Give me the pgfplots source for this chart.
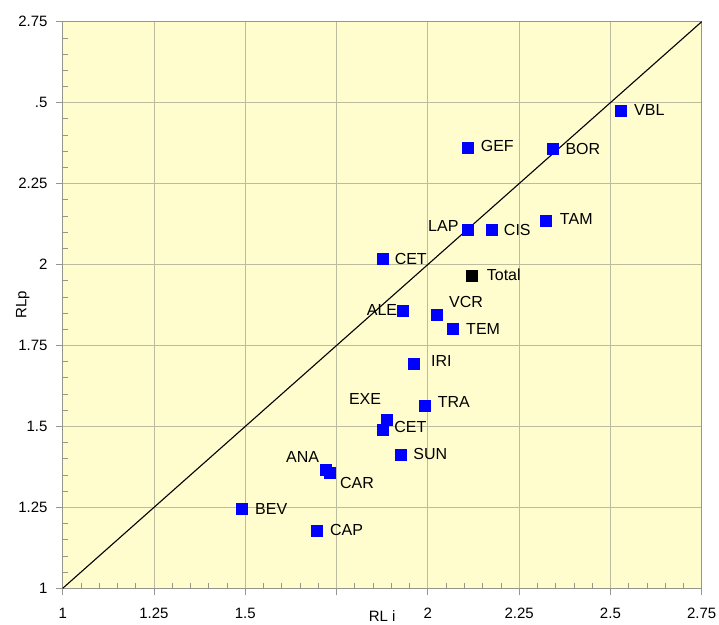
\documentclass[border=0pt]{standalone}
\usepackage{fontspec}
\setmainfont{Liberation Sans}
\usepackage{pgfplots}
\usepackage{pgfplotstable}
\pgfplotsset{compat=1.18}
\definecolor{bgy}{RGB}{255,253,205}
\definecolor{gridc}{RGB}{188,188,160}
\definecolor{framec}{RGB}{150,150,140}
\pgfplotstableread{
x y
2.529 2.474
2.109 2.362
2.341 2.358
2.109 2.107
2.175 2.107
2.323 2.135
1.876 2.018
1.930 1.857
2.025 1.844
2.069 1.801
1.962 1.695
1.991 1.565
1.886 1.520
1.875 1.491
1.927 1.412
1.719 1.367
1.732 1.358
1.491 1.246
1.696 1.179
}\pts
\pgfplotstableread{
x y
2.120 1.965
}\total
\tikzset{lbl/.style={inner sep=0pt, text=black, font=\fontsize{16}{18}\selectfont}}
\begin{document}
\begin{tikzpicture}
\useasboundingbox (-62.7pt,-35.7pt) rectangle (656.3pt,588.3pt);
\begin{axis}[
  at={(0,0)}, anchor=south west,
  scale only axis, width=639pt, height=566.6pt,
  xmin=1, xmax=2.75, ymin=1, ymax=2.75,
  xtick={1,1.25,1.5,1.75,2,2.25,2.5,2.75},
  ytick={1,1.25,1.5,1.75,2,2.25,2.5,2.75},
  xticklabels={1,1.25,1.5,,2,2.25,2.5,2.75},
  yticklabels={1,1.25,1.5,1.75,2,2.25,.5,2.75},
  minor tick num=4,
  xtick pos=left, ytick pos=left,
  grid=major,
  major grid style={gridc, line width=0.8pt},
  axis background/.style={fill=bgy},
  axis line style={framec, line width=1pt},
  tick style={framec, line width=0.7pt},
  tick align=outside,
  major tick length=7pt, minor tick length=5pt,
  minor x tick style={yshift=5pt},
  minor y tick style={xshift=5pt},
  xticklabel style={inner sep=0pt, anchor=north, yshift=-13pt, font=\fontsize{15}{17}\selectfont},
  yticklabel style={inner sep=0pt, anchor=east, xshift=-8pt, font=\fontsize{15}{17}\selectfont},
  /pgf/number format/assume math mode=true,
  clip=false,
]
\addplot[black, line width=1.1pt, no marks] coordinates {(1,1) (2.75,2.75)};
\addplot[only marks, mark=square*, mark size=5.5pt, color=blue, mark options={fill=blue, draw=blue}]
  table[x=x, y=y] {\pts};
\addplot[only marks, mark=square*, mark size=5.5pt, color=black] table[x=x, y=y] {\total};
% labels
\node[lbl, anchor=west] at ([xshift=13pt, yshift=1pt]axis cs:2.529,2.474) {VBL};
\node[lbl, anchor=west] at ([xshift=13pt, yshift=1pt]axis cs:2.109,2.362) {GEF};
\node[lbl, anchor=west] at ([xshift=13pt]axis cs:2.341,2.358) {BOR};
\node[lbl, anchor=east] at ([xshift=-9pt, yshift=4pt]axis cs:2.109,2.107) {LAP};
\node[lbl, anchor=west] at ([xshift=12pt]axis cs:2.175,2.107) {CIS};
\node[lbl, anchor=west] at ([xshift=14pt, yshift=2pt]axis cs:2.323,2.135) {TAM};
\node[lbl, anchor=west] at ([xshift=12pt]axis cs:1.876,2.018) {CET};
\node[lbl, anchor=west] at ([xshift=15pt, yshift=1pt]axis cs:2.120,1.965) {Total};
\node[lbl, anchor=east] at ([xshift=-5pt, yshift=1pt]axis cs:1.930,1.857) {ALE};
\node[lbl, anchor=south west] at ([xshift=12pt, yshift=7pt]axis cs:2.025,1.844) {VCR};
\node[lbl, anchor=west] at ([xshift=13pt]axis cs:2.069,1.801) {TEM};
\node[lbl, anchor=west] at ([xshift=17pt, yshift=2pt]axis cs:1.962,1.695) {IRI};
\node[lbl, anchor=west] at ([xshift=13pt, yshift=3pt]axis cs:1.991,1.565) {TRA};
\node[lbl, anchor=south east] at ([xshift=-5pt, yshift=15pt]axis cs:1.886,1.520) {EXE};
\node[lbl, anchor=west] at ([xshift=12pt, yshift=2pt]axis cs:1.875,1.491) {CET};
\node[lbl, anchor=west] at ([xshift=12pt, yshift=1pt]axis cs:1.927,1.412) {SUN};
\node[lbl, anchor=south east] at ([xshift=-6pt, yshift=7pt]axis cs:1.719,1.367) {ANA};
\node[lbl, anchor=north west] at ([xshift=10pt, yshift=-5pt]axis cs:1.732,1.358) {CAR};
\node[lbl, anchor=west] at ([xshift=13pt]axis cs:1.491,1.246) {BEV};
\node[lbl, anchor=west] at ([xshift=13pt]axis cs:1.696,1.179) {CAP};
\node[rotate=90, inner sep=0pt, font=\fontsize{15}{17}\selectfont] at ([xshift=-40pt]rel axis cs:0,0.5) {RLp};
\node[anchor=north, inner sep=0pt, font=\fontsize{15}{17}\selectfont] at ([yshift=-22pt]rel axis cs:0.5,0) {RL i};
\end{axis}
\end{tikzpicture}
\end{document}
